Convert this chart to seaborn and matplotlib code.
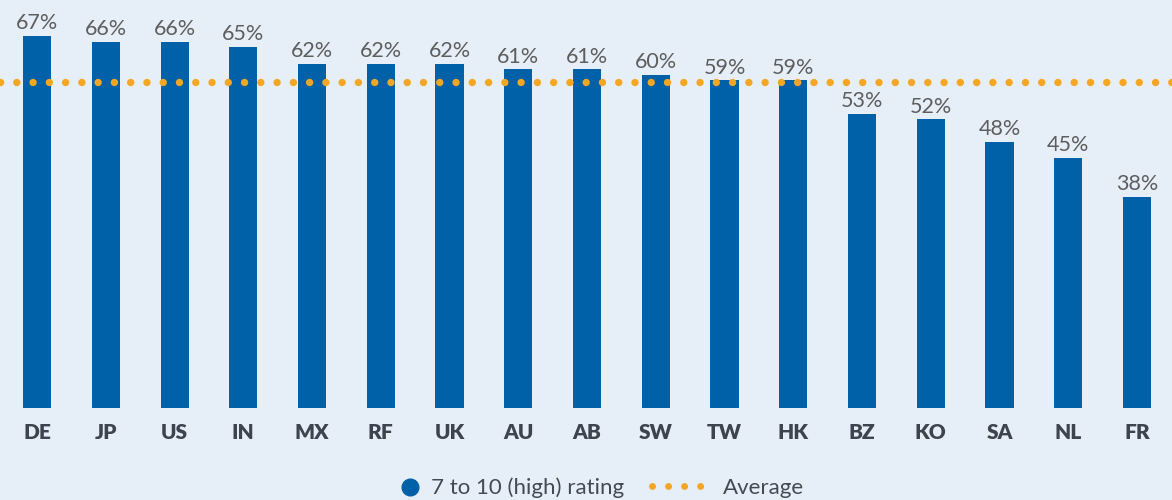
import pandas as pd
import matplotlib.pyplot as plt
import seaborn as sns
from matplotlib.lines import Line2D

# data
countries = ['DE', 'JP', 'US', 'IN', 'MX', 'RF', 'UK', 'AU', 'AB', 'SW', 'TW', 'HK', 'BZ', 'KO', 'SA', 'NL', 'FR']
high_rating = [67, 66, 66, 65, 62, 62, 62, 61, 61, 60, 59, 59, 53, 52, 48, 45, 38]
average = 58.7

bg = '#e6eef7'
blue = '#0060a8'
orange = '#f5a623'

df = pd.DataFrame({'country': countries, 'rating': high_rating})

sns.set_style('white')
plt.rcParams['font.family'] = ['Lato', 'DejaVu Sans']

fig = plt.figure(figsize=(11.72, 5), dpi=100)
fig.patch.set_facecolor(bg)
ax = fig.add_axes([0, 0.184, 1, 0.816])
ax.set_facecolor(bg)

sns.barplot(x='country', y='rating', data=df, color=blue, width=0.41,
            saturation=1, linewidth=0, ax=ax, zorder=2)

# dotted average line, drawn over the bars
ax.axhline(average, color=orange, linewidth=5.3, linestyle=(0, (0.01, 2.2)),
           dash_capstyle='round', zorder=3)

# value labels
for i, v in enumerate(high_rating):
    ax.text(i, v + 0.5, f'{v}%', ha='center', va='bottom', fontsize=15.5,
            color='#5e5e5e')

ax.set_xlim(-0.54, 16.51)
ax.set_ylim(0, 73.5)
ax.set_yticks([])
ax.set_xlabel('')
ax.set_ylabel('')
ax.tick_params(axis='x', length=0, pad=11, labelsize=15, labelcolor='#3d4450')
for lbl in ax.get_xticklabels():
    lbl.set_fontweight('heavy')
for s in ax.spines.values():
    s.set_visible(False)

# legend in two pieces so each handle gets its own length
dot_handle = Line2D([], [], marker='o', color=blue, linestyle='none', markersize=12)
avg_handle = Line2D([], [], color=orange, linewidth=5, linestyle=(0, (0.01, 2.3)),
                    dash_capstyle='round')
fig.legend([dot_handle], ['7 to 10 (high) rating'], loc='center left',
           bbox_to_anchor=(0.341, 0.024), frameon=False, fontsize=16,
           labelcolor='#444a55', handlelength=0.9, handletextpad=0.5,
           borderpad=0, borderaxespad=0)
fig.legend([avg_handle], ['Average'], loc='center left',
           bbox_to_anchor=(0.556, 0.024), frameon=False, fontsize=16,
           labelcolor='#444a55', handlelength=2.7, handletextpad=0.5,
           borderpad=0, borderaxespad=0)

plt.savefig('out.png', dpi=100, facecolor=bg)
